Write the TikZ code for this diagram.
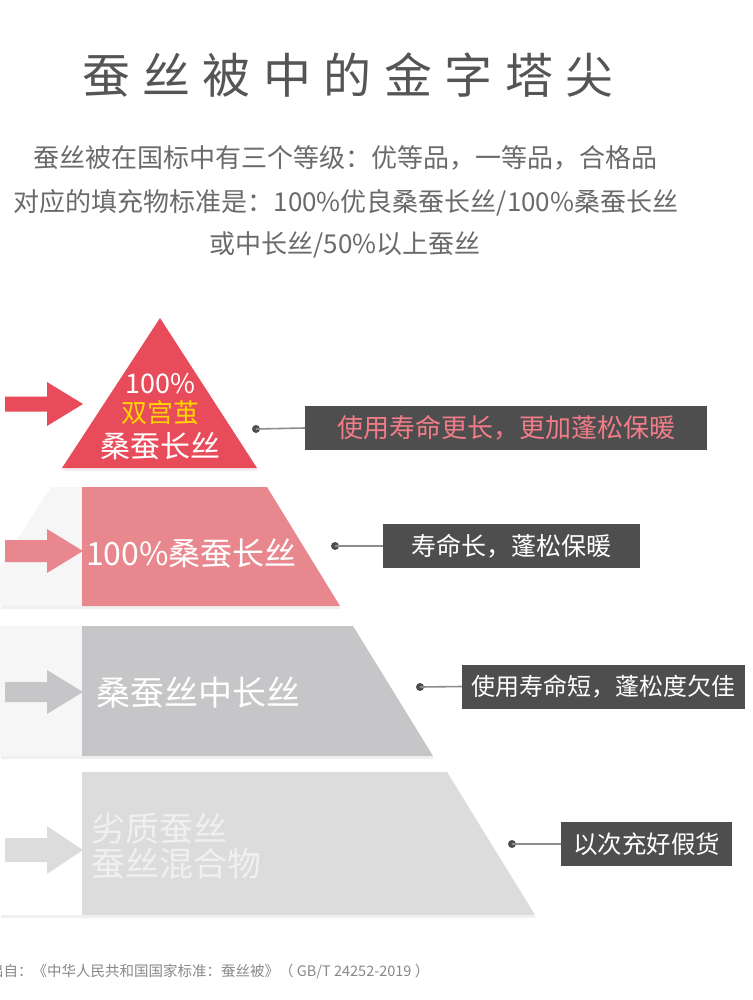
\documentclass[tikz,border=0pt]{standalone}
\usepackage{fontspec}
\setmainfont{Noto Sans CJK SC}
\newfontfamily\titlefont[LetterSpace=26]{Noto Sans CJK SC}
\usepackage{xcolor}
\usepackage{tikz}
\usetikzlibrary{shadows}
\definecolor{tip-red}{HTML}{E84B59}
\definecolor{tip-yellow}{HTML}{FFD400}
\definecolor{rose}{HTML}{E8878E}
\definecolor{mid-gray}{HTML}{C6C6C8}
\definecolor{pale-gray}{HTML}{DCDCDC}
\definecolor{side-gray}{HTML}{F6F6F6}
\definecolor{box-gray}{HTML}{4E4E4E}
\definecolor{line-gray}{HTML}{8C8C8C}
\definecolor{title-gray}{HTML}{555555}
\definecolor{note-gray}{HTML}{6A6A6A}
\definecolor{box-pink}{HTML}{F27C87}

\begin{document}
\begin{tikzpicture}[x=1pt, y=-1pt,
  fsz/.style={font=\fontsize{#1}{#1}\selectfont},
  tier/.style={drop shadow={shadow xshift=1pt, shadow yshift=-3pt, opacity=0.12}},
  tiertext/.style={text=white, anchor=west, align=left, inner sep=0pt},
  box/.style={fill=box-gray, text=white, anchor=west, minimum height=44pt, inner sep=0pt},
  dot/.style={circle, fill=box-gray, inner sep=0pt, minimum size=8pt},
  conn/.style={draw=line-gray, line width=1.6pt}]
  \useasboundingbox (0,0) rectangle (752,1000);
  \clip (0,0) rectangle (752,1000);

  % title and intro
  \node[text=title-gray, font=\titlefont\fontsize{48}{48}\selectfont] (title) at (348,75) {蚕丝被中的金字塔尖};
  \node[text=note-gray, fsz=26] (note1) at (345,158) {蚕丝被在国标中有三个等级：优等品，一等品，合格品};
  \node[text=note-gray, fsz=26] (note2) at (346,203) {对应的填充物标准是：100\%优良桑蚕长丝/100\%桑蚕长丝};
  \node[text=note-gray, fsz=26] (note3) at (345,245) {或中长丝/50\%以上蚕丝};

  % pyramid tiers
  \fill[tip-red, tier] (160,318) -- (257,468) -- (62,468) -- cycle;
  \fill[side-gray, tier] (51,487) -- (267,487) -- (340,606) -- (0,606) -- (0,566) -- cycle;
  \fill[rose] (82,487) -- (267,487) -- (340,606) -- (82,606) -- cycle;
  \fill[side-gray, tier] (0,626) -- (353,626) -- (433,756) -- (0,756) -- cycle;
  \fill[mid-gray] (82,626) -- (353,626) -- (433,756) -- (82,756) -- cycle;
  \fill[white, tier] (0,772) -- (447,772) -- (535,915) -- (0,915) -- cycle;
  \fill[pale-gray] (82,772) -- (447,772) -- (535,915) -- (82,915) -- cycle;

  % arrows on the left
  \foreach \ya/\bh/\hh/\col in {404/7.5/22/tip-red, 551/11/22/rose, 692/10/22/mid-gray, 850/12/24/pale-gray}
    \fill[\col] (5,{\ya-\bh}) -- (47,{\ya-\bh}) -- (47,{\ya-\hh}) -- (83,\ya)
      -- (47,{\ya+\hh}) -- (47,{\ya+\bh}) -- (5,{\ya+\bh}) -- cycle;

  % tier labels
  \node[text=white, fsz=27] (tipa) at (160,384) {100\%};
  \node[text=tip-yellow, fsz=26] (tipb) at (160,413) {双宫茧};
  \node[text=white, fsz=30] (tipc) at (160,446) {桑蚕长丝};
  \node[tiertext, fsz=32] (sang) at (86,553) {100\%桑蚕长丝};
  \node[tiertext, fsz=34] (zhong) at (96,693) {桑蚕丝中长丝};
  \node[tiertext, text=white!94!black, fsz=34] (liezhi) at (91,846) {劣质蚕丝\\[1pt]蚕丝混合物};

  % callouts
  \node[box, text=box-pink, minimum width=402pt, fsz=26] (b1) at (305,428) {使用寿命更长，更加蓬松保暖};
  \node[box, minimum width=257pt, fsz=25] (b2) at (383,546) {寿命长，蓬松保暖};
  \node[box, minimum width=283pt, fsz=24] (b3) at (462,686.5) {使用寿命短，蓬松度欠佳};
  \node[box, minimum width=171pt, fsz=24.5] (b4) at (561,844) {以次充好假货};
  \node[dot] (d1) at (256,429) {};
  \node[dot] (d2) at (335,546) {};
  \node[dot] (d3) at (420,687) {};
  \node[dot] (d4) at (512,844) {};
  \foreach \i in {1,...,4}
    \draw[conn] (d\i.center) -- (b\i.west);

  % source
  \node[anchor=base west, text=note-gray!80, fsz=14.5, inner sep=0pt] (src) at (-11,976) {出自：《中华人民共和国国家标准：蚕丝被》（ GB/T 24252-2019 ）};
\end{tikzpicture}
\end{document}
